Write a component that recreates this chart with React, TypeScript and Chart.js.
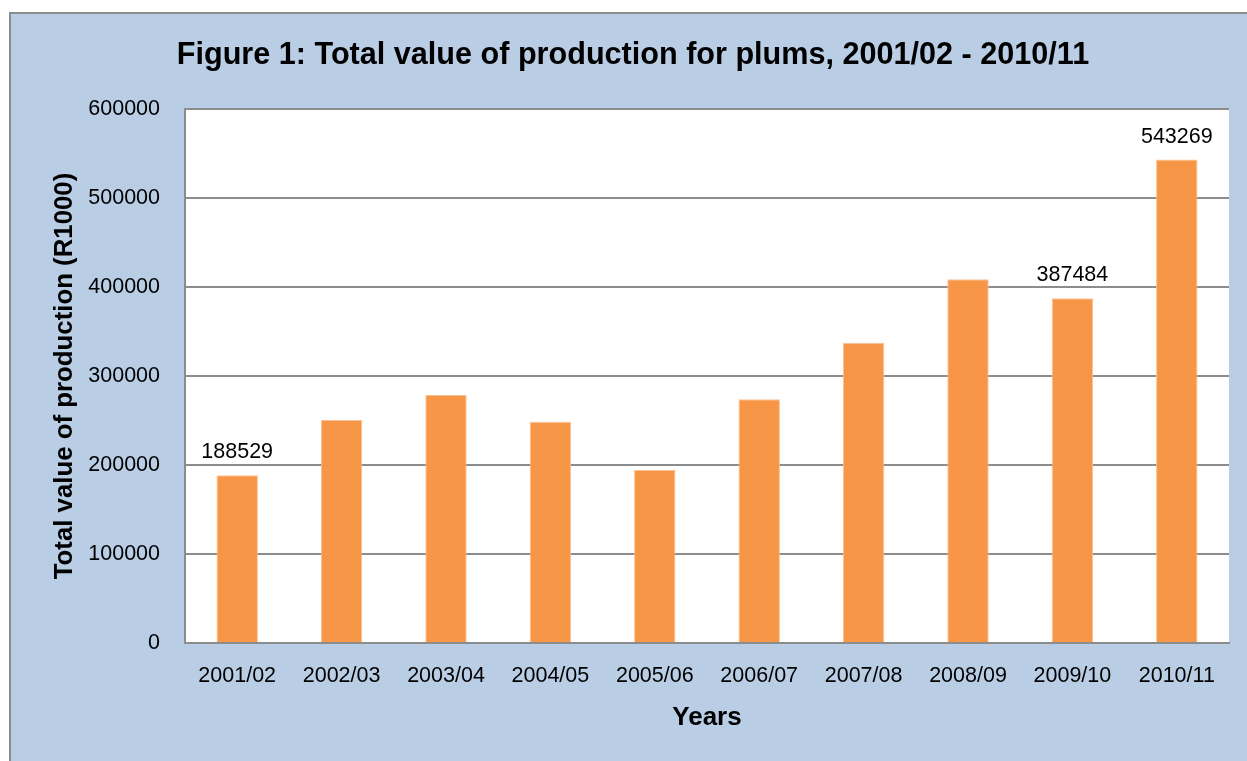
import React, { useEffect, useRef } from "react";
import { Chart, registerables } from "chart.js";

Chart.register(...registerables);

const categories = ["2001/02", "2002/03", "2003/04", "2004/05", "2005/06", "2006/07", "2007/08", "2008/09", "2009/10", "2010/11"];
const values = [188529, 250600, 278700, 248700, 194400, 273800, 337500, 408600, 387484, 543269];
const showLabel = [true, false, false, false, false, false, false, false, true, true];
const yTicks = [0, 100000, 200000, 300000, 400000, 500000, 600000];

const titleText = "Figure 1: Total value of production for plums, 2001/02 - 2010/11";
const yTitle = "Total value of production (R1000)";
const xTitle = "Years";

const FONT = '"Liberation Sans Narrow", "Arial Narrow", "Liberation Sans", Arial, sans-serif';

const plotBg = {
  id: "plotBg",
  beforeDraw(chart: any) {
    const { ctx, chartArea } = chart;
    ctx.save();
    ctx.fillStyle = "#ffffff";
    ctx.fillRect(chartArea.left, chartArea.top, chartArea.right - chartArea.left, chartArea.bottom - chartArea.top);
    ctx.restore();
  },
};

const valueLabels = {
  id: "valueLabels",
  afterDatasetsDraw(chart: any) {
    const { ctx } = chart;
    const meta = chart.getDatasetMeta(0);
    ctx.save();
    ctx.fillStyle = "#000000";
    ctx.font = `21.5px ${FONT}`;
    ctx.textAlign = "center";
    ctx.textBaseline = "alphabetic";
    meta.data.forEach((bar: any, i: number) => {
      if (!showLabel[i]) return;
      ctx.fillText(String(values[i]), bar.x, bar.y - 17);
    });
    ctx.restore();
  },
};

export default function App() {
  const ref = useRef<HTMLCanvasElement | null>(null);
  useEffect(() => {
    if (!ref.current) return;
    const chart = new Chart(ref.current, {
      type: "bar",
      data: {
        labels: categories,
        datasets: [
          {
            data: values,
            backgroundColor: "#F79646",
            borderColor: "#FBC194",
            borderWidth: 1,
            barPercentage: 0.397,
            categoryPercentage: 1,
          },
        ],
      },
      options: {
        responsive: false,
        animation: false,
        devicePixelRatio: 1,
        layout: { padding: { left: 37, right: 18, top: 0, bottom: 0 } },
        plugins: {
          legend: { display: false },
          tooltip: { enabled: false },
          title: {
            display: true,
            text: titleText,
            color: "#000000",
            font: { family: FONT, size: 30.6, weight: "bold", lineHeight: 1.2 },
            padding: { top: 37, bottom: 35.3 },
          },
        },
        scales: {
          x: {
            grid: { display: false, drawTicks: false },
            border: { display: true, color: "#8c8c8c", width: 2 },
            ticks: {
              color: "#000000",
              font: { family: FONT, size: 21.5, lineHeight: 1.2 },
              padding: 20,
              maxRotation: 0,
              autoSkip: false,
            },
            title: {
              display: true,
              text: xTitle,
              color: "#000000",
              font: { family: FONT, size: 26, weight: "bold", lineHeight: 1.2 },
              padding: { top: 0, bottom: 28 },
            },
            afterFit(scale: any) {
              scale.height = 118;
            },
          },
          y: {
            min: 0,
            max: 600000,
            afterBuildTicks(scale: any) {
              scale.ticks = yTicks.map((v) => ({ value: v }));
            },
            grid: { color: "#8c8c8c", lineWidth: 2, drawTicks: false },
            border: { display: true, color: "#8c8c8c", width: 2 },
            ticks: {
              color: "#000000",
              font: { family: FONT, size: 21.5, lineHeight: 1.2 },
              padding: 25,
              callback: (v: any) => String(v),
            },
            title: {
              display: true,
              text: yTitle,
              color: "#000000",
              font: { family: FONT, size: 25.8, weight: "bold", lineHeight: 1.2 },
              padding: { top: 12.5, bottom: 0 },
            },
            afterFit(scale: any) {
              scale.width = 148;
            },
          },
        },
      },
      plugins: [plotBg, valueLabels],
    });
    return () => chart.destroy();
  }, []);

  return (
    <div style={{ position: "absolute", left: 0, top: 0, width: 1247, height: 761, overflow: "hidden", background: "#ffffff" }}>
      <div
        style={{
          position: "absolute",
          left: 9,
          top: 12,
          width: 1300,
          height: 800,
          background: "#B9CDE5",
          border: "2px solid #8c8c8c",
        }}
      />
      <canvas ref={ref} width={1247} height={761} style={{ position: "absolute", left: 0, top: 0, width: 1247, height: 761 }} />
    </div>
  );
}
